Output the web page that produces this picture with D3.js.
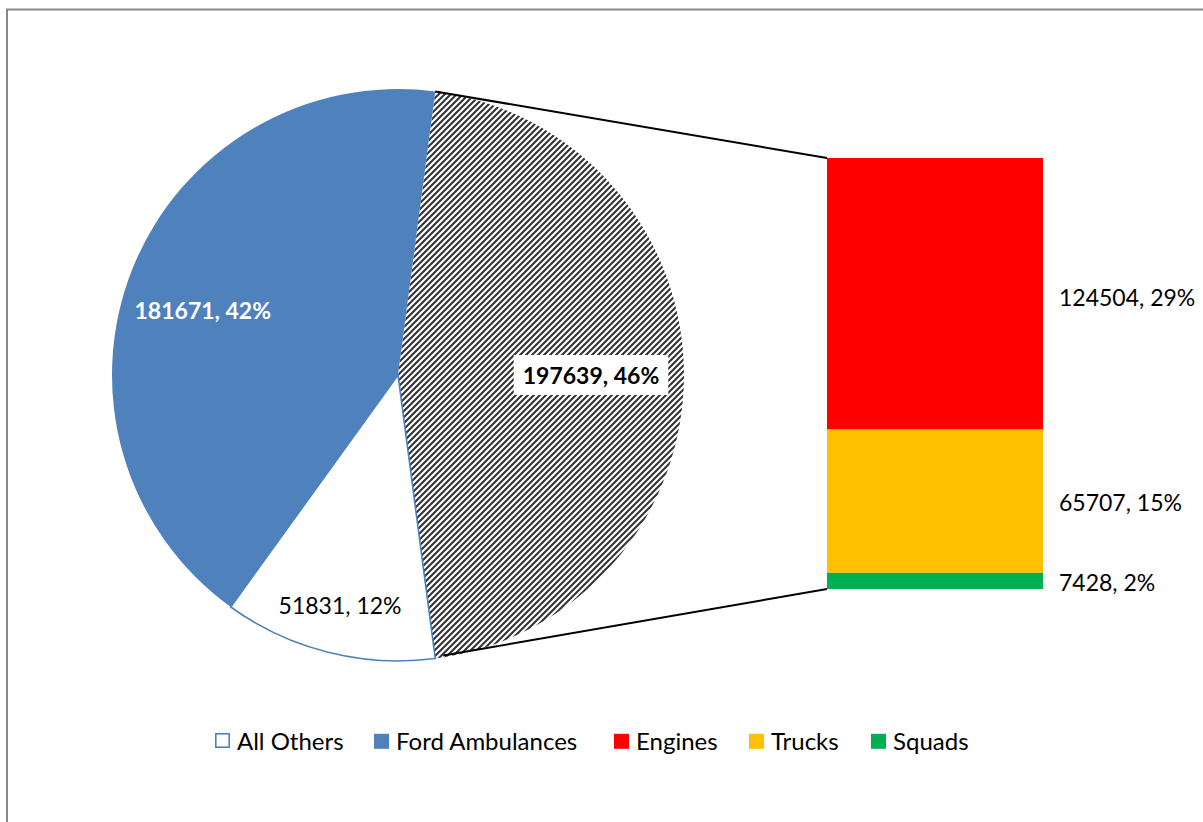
<!DOCTYPE html>
<html><head><meta charset="utf-8">
<script src="https://cdn.jsdelivr.net/npm/d3@7"></script>
<style>body{margin:0;background:#fff}svg{display:block}text{font-family:Lato,"Open Sans",sans-serif}</style>
</head><body>
<script>
const pieCategories = ["Other", "All Others", "Ford Ambulances"];
const pieValues = [197639, 51831, 181671];
const barCategories = ["Engines", "Trucks", "Squads"];
const barValues = [124504, 65707, 7428];
const pieLabels = ["197639, 46%", "51831, 12%", "181671, 42%"];
const barLabels = ["124504, 29%", "65707, 15%", "7428, 2%"];
const legendNames = ["All Others", "Ford Ambulances", "Engines", "Trucks", "Squads"];

const W = 1203, H = 822;
const svg = d3.select("body").append("svg").attr("width", W).attr("height", H);
const defs = svg.append("defs");
const pat = defs.append("pattern").attr("id", "hatch").attr("patternUnits", "userSpaceOnUse")
  .attr("width", 6).attr("height", 6);
pat.append("rect").attr("width", 6).attr("height", 6).attr("fill", "#fff");
pat.append("path").attr("d", "M-1,7 L7,-1 M-4,4 L4,-4 M2,10 L10,2").attr("stroke", "#333").attr("stroke-width", 2.1);

// border
svg.append("path").attr("d", `M7,${H} L7,9.5 L${W},9.5`).attr("fill", "none").attr("stroke", "#888").attr("stroke-width", 2);

const cx = 398, cy = 375, R = 286;
const total = d3.sum(pieValues);
const otherAngle = pieValues[0] / total * 2 * Math.PI;
const start = Math.PI / 2 - otherAngle / 2;
const pie = d3.pie().sort(null).value(d => d).startAngle(start).endAngle(start + 2 * Math.PI);
const arcs = pie(pieValues);
const arc = d3.arc().innerRadius(0).outerRadius(R);
const g = svg.append("g").attr("transform", `translate(${cx},${cy})`);
const fills = ["url(#hatch)", "#fff", "#4F81BD"];
const strokes = ["none", "#4F81BD", "none"];
g.selectAll("path.slice").data(arcs).join("path").attr("class", "slice")
  .attr("d", arc).attr("fill", (d, i) => fills[i]).attr("stroke", (d, i) => strokes[i]).attr("stroke-width", 1.6);

// bar stack
const barX = 827, barW = 216, barTop = 158, barBot = 589;
const y = d3.scaleLinear().domain([0, d3.sum(barValues)]).range([barTop, barBot]);
const cum = d3.cumsum(barValues);
const barColors = ["#FF0000", "#FFC000", "#00B050"];
svg.selectAll("rect.bar").data(barValues).join("rect").attr("class", "bar")
  .attr("x", barX).attr("width", barW)
  .attr("y", (d, i) => y(cum[i] - d)).attr("height", d => y(d) - y(0))
  .attr("fill", (d, i) => barColors[i]);

// connector lines
const a0 = arcs[0];
const p1 = [cx + R * Math.sin(a0.startAngle), cy - R * Math.cos(a0.startAngle)];
const p2 = [cx + R * Math.sin(a0.endAngle), cy - R * Math.cos(a0.endAngle)];
svg.append("line").attr("x1", p1[0]).attr("y1", p1[1]).attr("x2", barX).attr("y2", barTop).attr("stroke", "#000").attr("stroke-width", 2);
svg.append("line").attr("x1", p2[0] + 8).attr("y1", p2[1] - 3).attr("x2", barX).attr("y2", barBot).attr("stroke", "#000").attr("stroke-width", 2);

// pie labels
const labelR = [193, 237, 210];
arcs.forEach((d, i) => {
  const m = (d.startAngle + d.endAngle) / 2;
  const lx = cx + labelR[i] * Math.sin(m), ly = cy - labelR[i] * Math.cos(m) + (i === 2 ? 12 : 0);
  const t = svg.append("text").attr("x", lx).attr("y", ly).attr("text-anchor", "middle")
    .attr("dominant-baseline", "central").attr("font-size", 23).text(pieLabels[i]);
  if (i === 0) {
    t.attr("font-weight", "bold").attr("fill", "#000");
    const bb = t.node().getBBox();
    svg.insert("rect", "text").attr("x", bb.x - 9).attr("y", bb.y - 6).attr("width", bb.width + 18).attr("height", bb.height + 12).attr("fill", "#fff");
  } else if (i === 2) {
    t.attr("font-weight", "bold").attr("fill", "#fff");
  } else {
    t.attr("fill", "#000");
  }
});

// bar labels
const barLabelY = [297, 502, 582];
barLabels.forEach((s, i) => {
  svg.append("text").attr("x", 1059).attr("y", barLabelY[i]).attr("dominant-baseline", "central")
    .attr("font-size", 23).attr("fill", "#000").text(s);
});

// legend
const legX = [215, 374, 614, 749, 871];
const legFill = ["#fff", "#4F81BD", "#FF0000", "#FFC000", "#00B050"];
legendNames.forEach((n, i) => {
  svg.append("rect").attr("x", legX[i] + (i === 0 ? 0.8 : 0)).attr("y", 733.8).attr("width", i === 0 ? 13.4 : 15).attr("height", i === 0 ? 13.4 : 15)
    .attr("fill", legFill[i]).attr("stroke", i === 0 ? "#4F81BD" : "none").attr("stroke-width", 1.6);
  svg.append("text").attr("x", legX[i] + 22).attr("y", 740.5).attr("dominant-baseline", "central")
    .attr("font-size", 24).attr("fill", "#000").text(n);
});
</script>
</body></html>
